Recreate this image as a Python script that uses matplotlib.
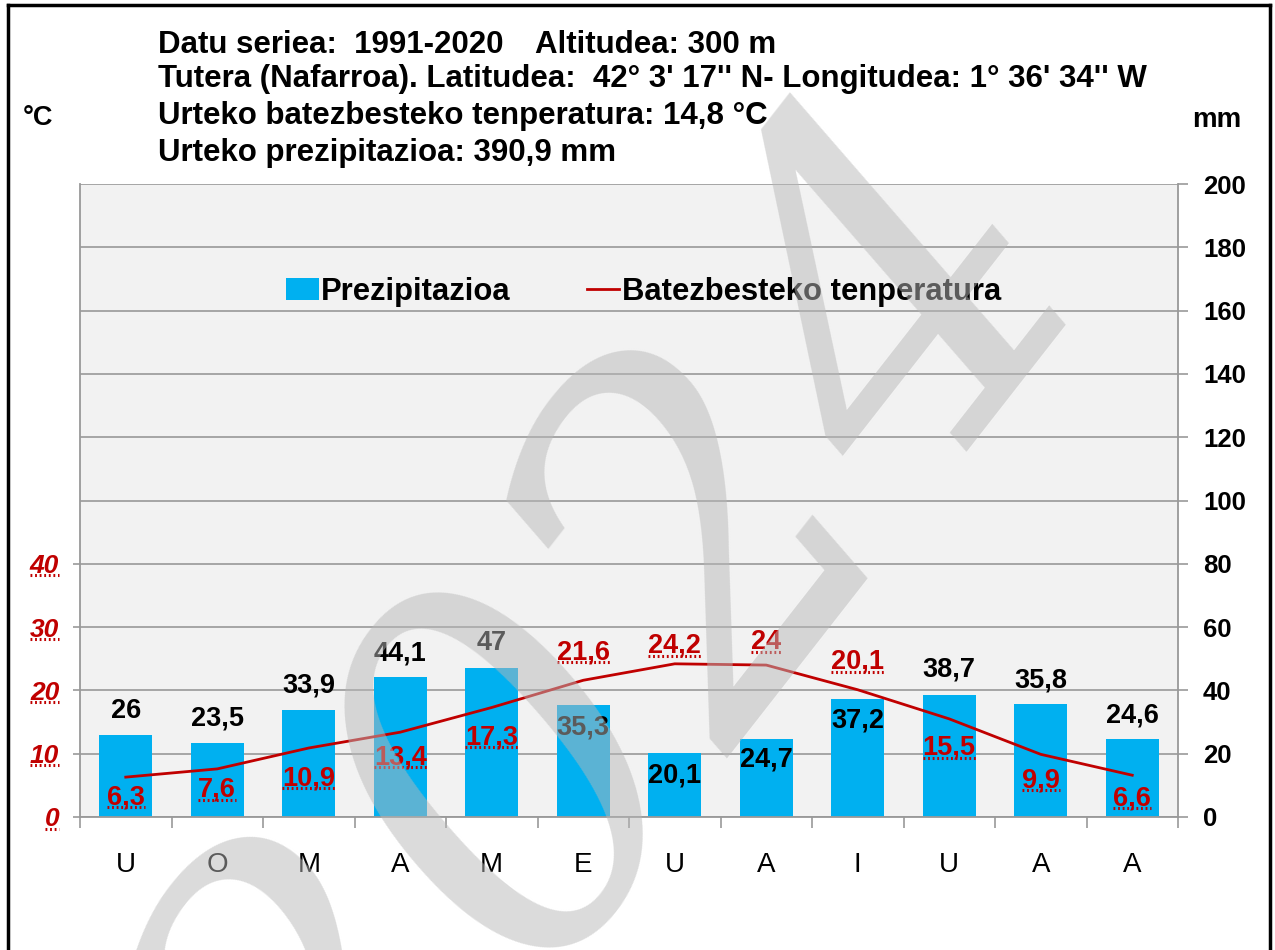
import matplotlib
matplotlib.use("Agg")
import matplotlib.pyplot as plt
import numpy as np
from matplotlib.lines import Line2D
from matplotlib.patches import Patch

# data
months = ["U", "O", "M", "A", "M", "E", "U", "A", "I", "U", "A", "A"]
precip = [26, 23.5, 33.9, 44.1, 47, 35.3, 20.1, 24.7, 37.2, 38.7, 35.8, 24.6]
temp = [6.3, 7.6, 10.9, 13.4, 17.3, 21.6, 24.2, 24, 20.1, 15.5, 9.9, 6.6]

title_lines = [
    "Tutera (Nafarroa). Latitudea:  42° 3' 17'' N- Longitudea: 1° 36' 34'' W",
    "Urteko batezbesteko tenperatura: 14,8 °C",
    "Urteko prezipitazioa: 390,9 mm",
]

# label offsets in pixels (positive = above)
prec_off = [24, 24, 24, 24, 25, -22, -22, -21, -21, 25, 23, 24]
temp_off = [-20, -21, -30, -25, -30, 28, 18, 23, 28, -29, -26, -23]

BLUE = "#00b0f0"
RED = "#c00000"
GRID = "#999999"
W, H = 1275, 950
FONT = "Liberation Sans"

plt.rcParams["font.family"] = [FONT, "DejaVu Sans"]

fig = plt.figure(figsize=(W / 100, H / 100), dpi=100)
fig.patch.set_facecolor("white")

ax = fig.add_axes([80 / W, 1 - 817 / H, (1178 - 80) / W, (817 - 184) / H])
ax.set_facecolor("#f2f2f2")
ax.set_axisbelow(True)
ax2 = ax.twinx()

x = np.arange(len(months))
ax.bar(x, precip, width=0.58, color=BLUE, zorder=2)
ax.set_xlim(-0.5, 11.5)
ax.set_ylim(0, 200)
ax.yaxis.tick_right()
ax.set_yticks(np.arange(0, 201, 20))
ax.tick_params(axis="y", which="major", direction="out", length=7, width=1.2,
               color=GRID, pad=11, labelsize=18.5, right=True, left=False,
               labelright=True, labelleft=False)
for t in ax.get_yticklabels():
    t.set_fontweight("bold")
ax.grid(axis="y", color=GRID, linewidth=1.2)
ax.set_xticks(x)
ax.set_xticklabels(months, fontsize=20)
ax.set_xticks(np.arange(-0.5, 12, 1), minor=True)
ax.tick_params(axis="x", which="major", length=0, pad=25)
ax.tick_params(axis="x", which="minor", direction="out", length=8, width=1.2, color=GRID)
for s in ["top", "left"]:
    ax.spines[s].set_visible(False)
for s in ["bottom", "right"]:
    ax.spines[s].set_color(GRID)
    ax.spines[s].set_linewidth(1.3)

ax2.set_ylim(0, 100)
ax2.yaxis.tick_left()
ax2.set_yticks([0, 10, 20, 30, 40])
ax2.tick_params(axis="y", direction="out", length=5, width=1.2, color=GRID,
                pad=10, labelsize=19, labelcolor=RED, left=True, right=False,
                labelleft=True, labelright=False)
for t in ax2.get_yticklabels():
    t.set_fontweight("bold")
    t.set_fontstyle("italic")
ax2.spines["left"].set_visible(True)
ax2.spines["left"].set_color(GRID)
ax2.spines["left"].set_linewidth(1.3)
for s in ["top", "right", "bottom"]:
    ax2.spines[s].set_visible(False)
ax2.plot(x, temp, color=RED, linewidth=2, zorder=3)

px2pt = 0.72
underlined = []
for i in range(len(months)):
    ax.annotate(f"{precip[i]:g}".replace(".", ","), (x[i], precip[i]),
                xytext=(0, prec_off[i] * px2pt), textcoords="offset points",
                ha="center", va="center", fontsize=19.5, fontweight="bold",
                color="black", zorder=4)
    t = ax2.annotate(f"{temp[i]:g}".replace(".", ","), (x[i], temp[i]),
                     xytext=(0, temp_off[i] * px2pt), textcoords="offset points",
                     ha="center", va="center", fontsize=19.5, fontweight="bold",
                     color=RED, zorder=4)
    underlined.append(t)

legend_handles = [Patch(facecolor=BLUE, edgecolor="none"),
                  Line2D([], [], color=RED, linewidth=2)]
fig.legend(legend_handles, ["Prezipitazioa", "Batezbesteko tenperatura"],
           loc="center left", bbox_to_anchor=(286 / W, 1 - 292 / H), ncol=2,
           frameon=False, handlelength=1.05, handleheight=0.72, handletextpad=0.08,
           columnspacing=2.45, borderpad=0, borderaxespad=0,
           prop={"family": FONT, "weight": "bold", "size": 22.3})

# header texts
HS = 22.5
fig.text(158 / W, 1 - 45 / H, "Datu seriea:  1991-2020", fontsize=HS,
         fontweight="bold", va="center")
fig.text(535 / W, 1 - 45 / H, "Altitudea: 300 m", fontsize=HS,
         fontweight="bold", va="center")
for k, line in enumerate(title_lines):
    fig.text(158 / W, 1 - (79 + 37 * k) / H, line, fontsize=HS,
             fontweight="bold", va="center")
fig.text(23 / W, 1 - 118 / H, "°C", fontsize=19.5, fontweight="bold", va="center")
fig.text(1192 / W, 1 - 120 / H, "mm", fontsize=20, fontweight="bold", va="center")

# dotted underlines under the red numbers
fig.canvas.draw()
renderer = fig.canvas.get_renderer()
for t in underlined + list(ax2.get_yticklabels()):
    if not t.get_visible() or not t.get_text():
        continue
    bb = t.get_window_extent(renderer)
    yline = bb.y0 + 0.12 * bb.height
    fig.add_artist(Line2D([bb.x0 / W, bb.x1 / W], [yline / H, yline / H],
                          transform=fig.transFigure, color=RED, linewidth=2.2,
                          linestyle=(0, (0.6, 0.9)), zorder=5))

# outer frame (bottom cut off)
for xs, ys in [([8, 8], [5, 950]), ([8, 1270], [5, 5]), ([1270, 1270], [5, 950])]:
    fig.add_artist(Line2D([v / W for v in xs], [1 - v / H for v in ys],
                          transform=fig.transFigure, color="black", linewidth=2.5))

# watermark
fig.text(0.49, 0.29, "2024", fontsize=350, family="DejaVu Serif", style="italic",
         color="#b8b8b8", alpha=0.5, rotation=52, ha="center", va="center",
         zorder=10)

fig.savefig("out.png", dpi=100)
